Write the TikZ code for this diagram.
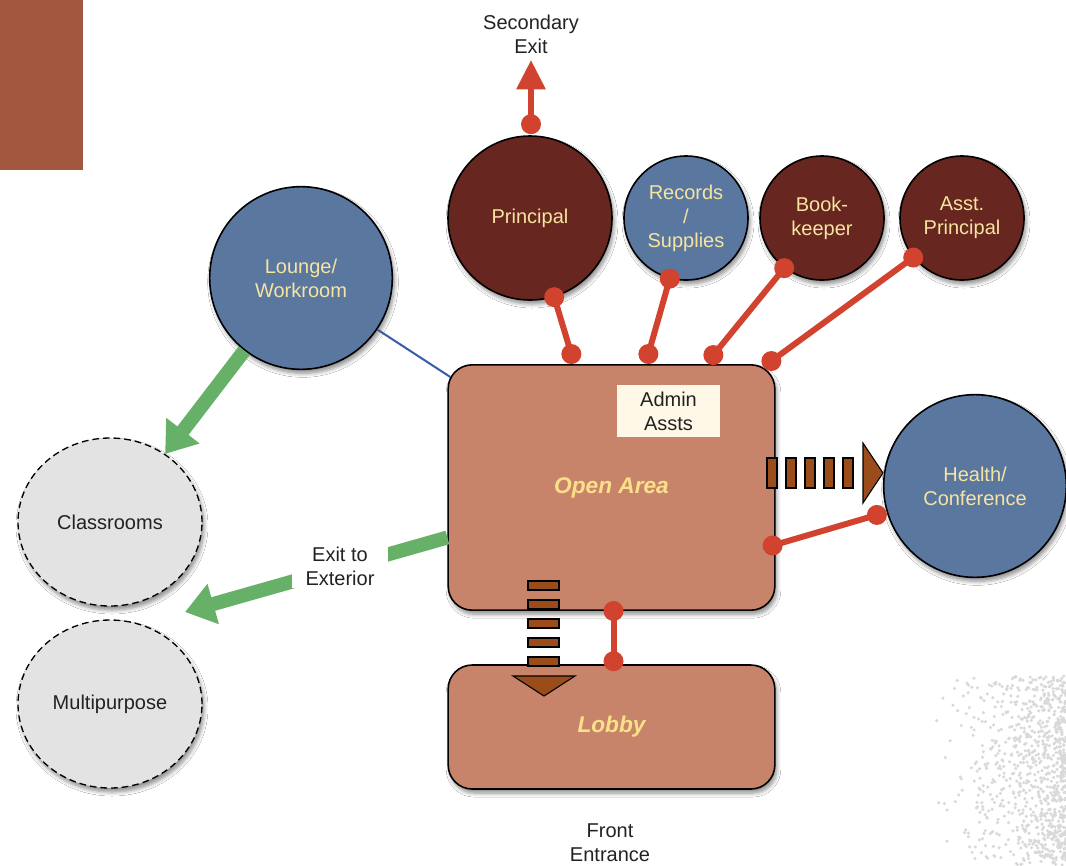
\documentclass[tikz,border=0pt]{standalone}
\usepackage{fontspec}
\setmainfont{Liberation Sans}
\usetikzlibrary{arrows.meta,shadows,shadows.blur,calc,shapes.geometric}

\definecolor{roomred}{HTML}{67261F}
\definecolor{roomblue}{HTML}{5A77A0}
\definecolor{area}{HTML}{C8846A}
\definecolor{paletxt}{HTML}{F6E4A0}
\definecolor{areatxt}{HTML}{FBE08A}
\definecolor{linkred}{HTML}{D2432F}
\definecolor{flowgreen}{HTML}{66B068}
\definecolor{flowbrown}{HTML}{9A4C1A}
\definecolor{corner}{HTML}{A4573F}
\definecolor{note}{HTML}{FFF8E6}
\definecolor{ink}{HTML}{222222}
\definecolor{lounge}{HTML}{3A5BA8}

\tikzset{
  shade/.style={blur shadow={shadow blur steps=6,shadow xshift=1.5pt,
    shadow yshift=-3pt,shadow opacity=45,shadow blur radius=3pt}},
  room/.style={circle,draw=black,line width=1.2pt,shade,text=paletxt,
    font=\fontsize{15}{18}\selectfont,align=center,inner sep=0pt},
  office/.style={room,fill=roomred},
  bluerm/.style={room,fill=roomblue},
  outer/.style={ellipse,draw=black,dash pattern=on 5pt off 3pt,line width=1pt,
    fill=gray!22,shade,minimum width=138pt,minimum height=126pt,text=ink,
    font=\fontsize{15}{18}\selectfont},
  space/.style={rectangle,rounded corners=18pt,draw=black,line width=1.2pt,
    fill=area,shade,text=areatxt,font=\fontsize{17}{20}\bfseries\itshape\selectfont},
  caption/.style={text=ink,font=\fontsize{15}{18}\selectfont,align=center},
  redlink/.style={draw=linkred,line width=4.5pt},
  greenflow/.style={draw=flowgreen,line width=10.5pt,
    -{Triangle[width=30pt,length=22pt]}},
  dash box/.style={fill=flowbrown,draw=black,line width=0.8pt},
}

% red connector with round dots at both ends
\newcommand{\dotlink}[2]{%
  \draw[redlink] (#1) -- (#2);
  \fill[linkred] (#1) circle (7.5pt);
  \fill[linkred] (#2) circle (7.5pt);}

\begin{document}
\begin{tikzpicture}[x=0.75pt,y=-0.75pt]
\useasboundingbox (0,0) rectangle (1066,865);
\fill[white] (0,0) rectangle (1066,865);

% faint speckled foliage in the lower right corner
\pgfmathsetseed{7}
\begin{scope}
  \clip (930,660) rectangle (1066,865);
  \foreach \i in {1,...,900}{
    \pgfmathsetmacro{\px}{1066-135*rnd*rnd}
    \pgfmathsetmacro{\py}{675+190*rnd}
    \fill[gray!30] (\px,\py) circle (1.3pt);
  }
\end{scope}

% corner block
\fill[corner] (0,0) rectangle (83,170);

% rooms
\node[office,minimum size=123pt] (principal) at (530,218) {Principal};
\node[bluerm,minimum size=93pt] (records) at (686,218) {Records\\/\\Supplies};
\node[office,minimum size=93pt] (bookkeeper) at (822,218) {Book-\\keeper};
\node[office,minimum size=93pt] (asst) at (962,218) {Asst.\\Principal};
\node[bluerm,minimum size=137pt] (lounge) at (301,278) {Lounge/\\Workroom};
\node[bluerm,minimum size=137pt] (health) at (975,486) {Health/\\Conference};
\node[outer] (classrooms) at (110,522) {Classrooms};
\node[outer] (multi) at (110,704) {Multipurpose};

% open area and lobby
\node[space,minimum width=245pt,minimum height=184pt] (open) at (611.5,487.5) {Open Area};
\node[space,minimum width=245pt,minimum height=93pt] (lobby) at (611.5,727) {Lobby};
\node[fill=note,minimum width=77pt,minimum height=39pt,text=ink,align=center,
  font=\fontsize{15}{18}\selectfont,inner sep=0pt] (admin) at (668.5,411) {Admin\\Assts};

% captions
\node[caption] (secexit) at (531,34) {Secondary\\Exit};
\node[caption] (front) at (610,843) {Front\\Entrance};
\coordinate (exitup) at (531,60);

% secondary exit
\draw[redlink,-{Triangle[width=21pt,length=22pt]}] ($(principal.north)+(1,-11)$) -- (exitup);
\fill[linkred] ($(principal.north)+(1,-11)$) circle (7.5pt);

% red links to the open area
\dotlink{principal.-73}{$(open.north west)+(124,-10)$}
\dotlink{records.-105}{$(open.north west)+(201,-10)$}
\dotlink{bookkeeper.-127}{$(open.north west)+(266,-9)$}
\dotlink{asst.-141}{$(open.north west)+(324,-3)$}
\dotlink{$(health.-163)+(-10,2)$}{$(open.east)+(-3,58)$}
\dotlink{$(open.south)+(2,0)$}{$(lobby.north)+(2,-3)$}

% lounge to open area
\draw[lounge,line width=1.5pt] (lounge.-34) -- ($(open.north west)+(3,13)$);

% green flows
\draw[greenflow] (lounge.-128) -- (classrooms.51);
\coordinate (exitout) at (185,612);
\draw[greenflow] ($(open.west)+(0,50)$) -- (exitout);
\node[caption,fill=white,inner xsep=10pt,inner ysep=2pt] (extlabel) at (340,566) {Exit to\\Exterior};

% dashed flow to health/conference
\foreach \k in {0,...,4}
  \draw[dash box] (767+19*\k,458) rectangle ++(10,30);
\draw[dash box] (863,443) -- (883,473) -- (863,503) -- cycle;

% dashed flow to lobby
\foreach \k in {0,...,4}
  \draw[dash box] (528,581+19*\k) rectangle ++(31,9);
\draw[dash box] (513,676) -- (575,676) -- (544,696) -- cycle;
\end{tikzpicture}
\end{document}
